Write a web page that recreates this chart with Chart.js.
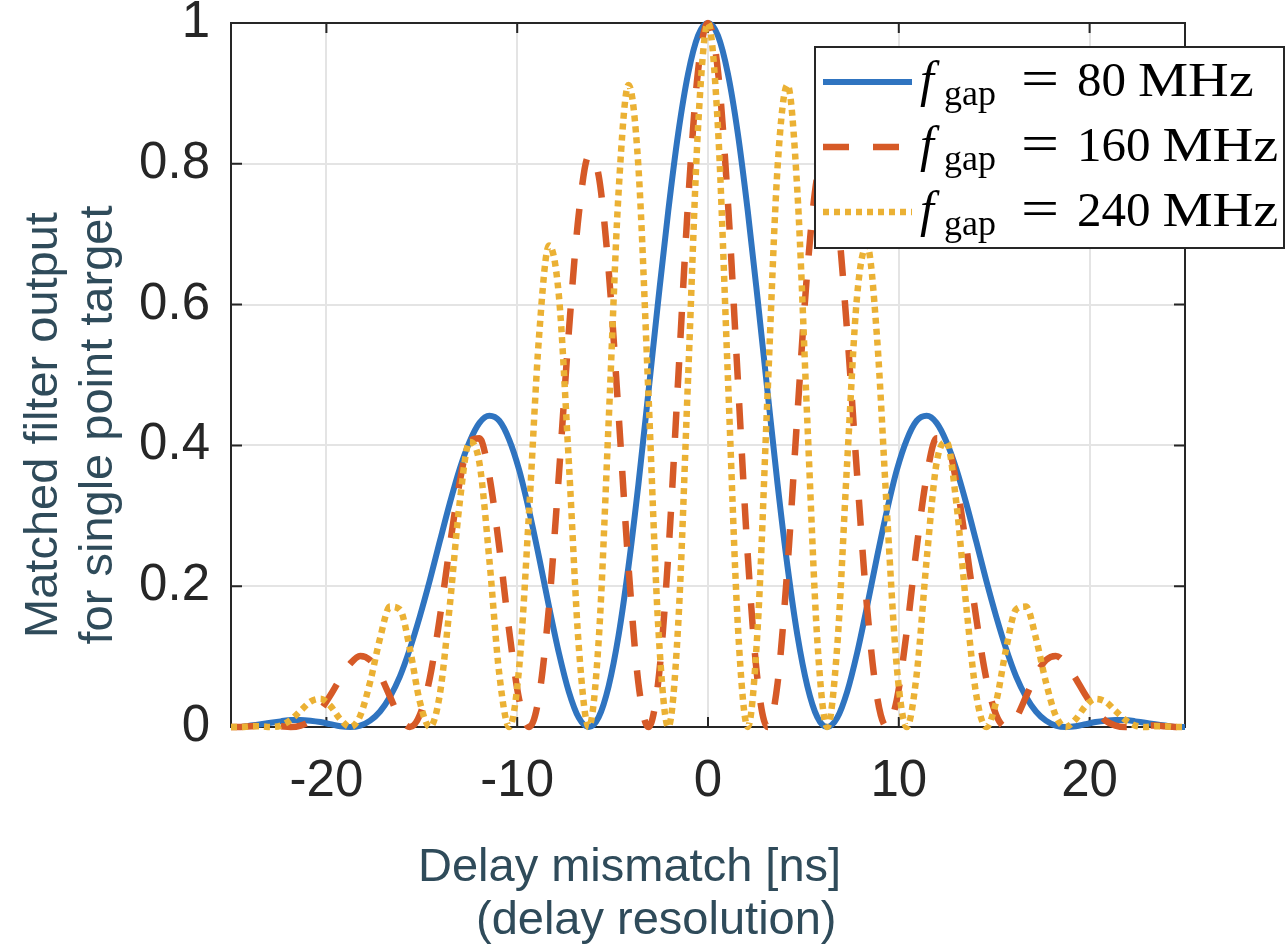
<!DOCTYPE html>
<html>
<head>
<meta charset="utf-8">
<script src="https://cdn.jsdelivr.net/npm/chart.js@4.4.1/dist/chart.umd.min.js"></script>
<style>
  html, body { margin: 0; padding: 0; background: #fff; }
</style>
</head>
<body>
<canvas id="mf" width="1286" height="948"></canvas>
<script>
// delay mismatch in ns
const delay = [
  -25, -24.479, -23.958, -23.438, -22.917, -22.396, -21.875, -21.354,
  -20.833, -20.313, -19.792, -19.271, -18.75, -18.229, -17.708, -17.188,
  -16.667, -16.146, -15.625, -15.104, -14.583, -14.063, -13.542, -13.021,
  -12.5, -11.979, -11.458, -10.938, -10.417, -9.896, -9.375, -8.854,
  -8.333, -7.813, -7.292, -6.771, -6.25, -5.729, -5.208, -4.688,
  -4.167, -3.646, -3.125, -2.604, -2.083, -1.563, -1.042, -0.521,
  0,
  0.521, 1.042, 1.563, 2.083, 2.604, 3.125, 3.646, 4.167,
  4.688, 5.208, 5.729, 6.25, 6.771, 7.292, 7.813, 8.333,
  8.854, 9.375, 9.896, 10.417, 10.938, 11.458, 11.979, 12.5,
  13.021, 13.542, 14.063, 14.583, 15.104, 15.625, 16.146, 16.667,
  17.188, 17.708, 18.229, 18.75, 19.271, 19.792, 20.313, 20.833,
  21.354, 21.875, 22.396, 22.917, 23.438, 23.958, 24.479, 25
];

// f_gap = 80 MHz
const gap80 = [
  0, 0, 0.002, 0.004, 0.006, 0.008, 0.010, 0.010,
  0.009, 0.007, 0.004, 0.001, 0, 0.002, 0.009, 0.022,
  0.043, 0.072, 0.111, 0.157, 0.208, 0.263, 0.317, 0.366,
  0.405, 0.432, 0.442, 0.435, 0.408, 0.365, 0.307, 0.241,
  0.171, 0.105, 0.050, 0.013, 0, 0.014, 0.058, 0.130,
  0.228, 0.345, 0.475, 0.607, 0.733, 0.843, 0.928, 0.982,
  1,
  0.982, 0.928, 0.843, 0.733, 0.607, 0.475, 0.345, 0.228,
  0.130, 0.058, 0.014, 0, 0.013, 0.050, 0.105, 0.171,
  0.241, 0.307, 0.365, 0.408, 0.435, 0.442, 0.432, 0.405,
  0.366, 0.317, 0.263, 0.208, 0.157, 0.111, 0.072, 0.043,
  0.022, 0.009, 0.002, 0, 0.001, 0.004, 0.007, 0.009,
  0.010, 0.010, 0.008, 0.006, 0.004, 0.002, 0, 0
];

// f_gap = 160 MHz
const gap160 = [
  0, 0, 0.001, 0.002, 0.002, 0.001, 0, 0.002,
  0.009, 0.024, 0.045, 0.069, 0.090, 0.101, 0.095, 0.074,
  0.043, 0.013, 0, 0.017, 0.069, 0.154, 0.255, 0.347,
  0.405, 0.410, 0.356, 0.255, 0.136, 0.039, 0, 0.044,
  0.171, 0.359, 0.562, 0.729, 0.811, 0.783, 0.649, 0.445,
  0.228, 0.062, 0, 0.065, 0.244, 0.494, 0.746, 0.932,
  1,
  0.932, 0.746, 0.494, 0.244, 0.065, 0, 0.062, 0.228,
  0.445, 0.649, 0.783, 0.811, 0.729, 0.562, 0.359, 0.171,
  0.044, 0, 0.039, 0.136, 0.255, 0.356, 0.410, 0.405,
  0.347, 0.255, 0.154, 0.069, 0.017, 0, 0.013, 0.043,
  0.074, 0.095, 0.101, 0.090, 0.069, 0.045, 0.024, 0.009,
  0.002, 0, 0.001, 0.002, 0.002, 0.001, 0, 0
];

// f_gap = 240 MHz
const gap240 = [
  0, 0, 0.001, 0.001, 0, 0.002, 0.010, 0.023,
  0.036, 0.040, 0.030, 0.011, 0, 0.016, 0.064, 0.126,
  0.171, 0.167, 0.111, 0.036, 0, 0.045, 0.170, 0.317,
  0.405, 0.375, 0.237, 0.075, 0, 0.085, 0.307, 0.555,
  0.684, 0.612, 0.375, 0.114, 0, 0.123, 0.433, 0.759,
  0.912, 0.795, 0.475, 0.141, 0, 0.145, 0.497, 0.852,
  1,
  0.852, 0.497, 0.145, 0, 0.141, 0.475, 0.795, 0.912,
  0.759, 0.433, 0.123, 0, 0.114, 0.375, 0.612, 0.684,
  0.555, 0.307, 0.085, 0, 0.075, 0.237, 0.375, 0.405,
  0.317, 0.170, 0.045, 0, 0.036, 0.111, 0.167, 0.171,
  0.126, 0.064, 0.016, 0, 0.011, 0.030, 0.040, 0.036,
  0.023, 0.010, 0.002, 0, 0.001, 0.001, 0, 0
];

const gapLabels = ['80', '160', '240'];
const xTicks = [-20, -10, 0, 10, 20];
const yTicks = [0, 0.2, 0.4, 0.6, 0.8, 1];
const xTitle = ['Delay mismatch [ns]', '(delay resolution)'];
const yTitle = ['Matched filter output', 'for single point target'];

const SANS = '"Liberation Sans", Arial, Helvetica, sans-serif';
const SERIF = '"Liberation Serif", "Times New Roman", serif';

const pts = ys => delay.map((x, i) => ({ x: x, y: ys[i] }));

// box around the axes with MATLAB style inward ticks
const frame = {
  id: 'frame',
  beforeDatasetsDraw(chart) {
    const { ctx, chartArea: a, scales: { x, y } } = chart;
    ctx.save();
    ctx.strokeStyle = '#262626';
    ctx.lineWidth = 2;
    ctx.strokeRect(a.left, a.top, a.right - a.left, a.bottom - a.top);
    ctx.beginPath();
    x.ticks.forEach(t => {
      const px = x.getPixelForValue(t.value);
      ctx.moveTo(px, a.bottom); ctx.lineTo(px, a.bottom - 10);
      ctx.moveTo(px, a.top); ctx.lineTo(px, a.top + 10);
    });
    y.ticks.forEach(t => {
      const py = y.getPixelForValue(t.value);
      ctx.moveTo(a.left, py); ctx.lineTo(a.left + 11, py);
      ctx.moveTo(a.right, py); ctx.lineTo(a.right - 11, py);
    });
    ctx.stroke();
    ctx.restore();
  }
};

const axisTitles = {
  id: 'axisTitles',
  afterDraw(chart) {
    const ctx = chart.ctx;
    ctx.save();
    ctx.fillStyle = '#2f4b5a';
    ctx.font = '47px ' + SANS;
    ctx.textBaseline = 'alphabetic';
    ctx.textAlign = 'left';
    ctx.fillText(xTitle[0], 418, 881);
    ctx.fillText(xTitle[1], 476, 934);
    ctx.translate(57, 425);
    ctx.rotate(-Math.PI / 2);
    ctx.textAlign = 'center';
    ctx.fillText(yTitle[0], 0, 0);
    ctx.fillText(yTitle[1], 0, 55);
    ctx.restore();
  }
};

// legend with f_gap subscripts
const texLegend = {
  id: 'texLegend',
  afterDraw(chart) {
    const ctx = chart.ctx;
    ctx.save();
    ctx.fillStyle = '#fff';
    ctx.fillRect(815, 47, 469, 201);
    ctx.strokeStyle = '#262626';
    ctx.lineWidth = 2;
    ctx.strokeRect(815, 47, 469, 201);
    chart.data.datasets.forEach((ds, i) => {
      const cy = 82 + i * 65;
      ctx.strokeStyle = ds.borderColor;
      ctx.lineWidth = ds.borderWidth;
      ctx.lineCap = 'butt';
      ctx.setLineDash(ds.borderDash || []);
      ctx.beginPath();
      ctx.moveTo(823, cy);
      ctx.lineTo(912, cy);
      ctx.stroke();
      ctx.setLineDash([]);

      const base = cy + 14;
      ctx.fillStyle = '#000';
      ctx.textBaseline = 'alphabetic';
      ctx.textAlign = 'left';
      ctx.font = 'italic 50px ' + SERIF;
      ctx.fillText('f', 920, base);
      ctx.font = '36px ' + SERIF;
      ctx.fillText('gap', 944, base + 9);
      ctx.save();
      ctx.translate(1021, base);
      ctx.scale(1.3, 1);
      ctx.font = '52px ' + SERIF;
      ctx.fillText('=', 0, 0);
      ctx.restore();
      ctx.font = '49px ' + SERIF;
      ctx.fillText(gapLabels[i], 1077, base);
      const w = ctx.measureText(gapLabels[i]).width;
      ctx.save();
      ctx.translate(1077 + w + 12, base);
      ctx.scale(1.15, 1);
      ctx.fillText('MHz', 0, 0);
      ctx.restore();
    });
    ctx.restore();
  }
};

const ctx = document.getElementById('mf').getContext('2d');
const mfChart = new Chart(ctx, {
  type: 'line',
  data: {
    datasets: [
      {
        label: 'f_gap = 80 MHz',
        data: pts(gap80),
        borderColor: '#2f74c0',
        borderWidth: 6,
        order: 3
      },
      {
        label: 'f_gap = 160 MHz',
        data: pts(gap160),
        borderColor: '#d65a27',
        borderWidth: 6.5,
        borderDash: [26, 24],
        order: 2
      },
      {
        label: 'f_gap = 240 MHz',
        data: pts(gap240),
        borderColor: '#ebb134',
        borderWidth: 6.5,
        borderDash: [6, 5],
        order: 1
      }
    ]
  },
  options: {
    responsive: false,
    animation: false,
    devicePixelRatio: 1,
    layout: { padding: { left: 0, right: 101, top: 23, bottom: 0 } },
    elements: {
      point: { radius: 0, hoverRadius: 0 },
      line: { cubicInterpolationMode: 'monotone', borderCapStyle: 'butt', borderJoinStyle: 'round', fill: false }
    },
    datasets: { line: { clip: 8 } },
    plugins: {
      legend: { display: false },
      tooltip: { enabled: false },
      title: { display: false }
    },
    scales: {
      x: {
        type: 'linear',
        min: -25,
        max: 25,
        afterBuildTicks: s => { s.ticks = xTicks.map(v => ({ value: v })); },
        afterFit: s => { s.height = 221; s.paddingLeft = 0; s.paddingRight = 0; },
        grid: { color: '#e4e4e4', lineWidth: 2, drawTicks: false },
        border: { display: false },
        ticks: {
          padding: 24,
          color: '#262626',
          font: { family: SANS, size: 51 },
          maxRotation: 0,
          callback: v => String(v)
        }
      },
      y: {
        type: 'linear',
        min: 0,
        max: 1,
        afterBuildTicks: s => { s.ticks = yTicks.map(v => ({ value: v })); },
        afterFit: s => { s.width = 231; s.paddingTop = 0; s.paddingBottom = 0; },
        grid: { color: '#e4e4e4', lineWidth: 2, drawTicks: false },
        border: { display: false },
        ticks: {
          padding: 21,
          color: '#262626',
          font: { family: SANS, size: 51 },
          callback: v => String(+v.toFixed(1))
        }
      }
    }
  },
  plugins: [frame, axisTitles, texLegend]
});
</script>
</body>
</html>
